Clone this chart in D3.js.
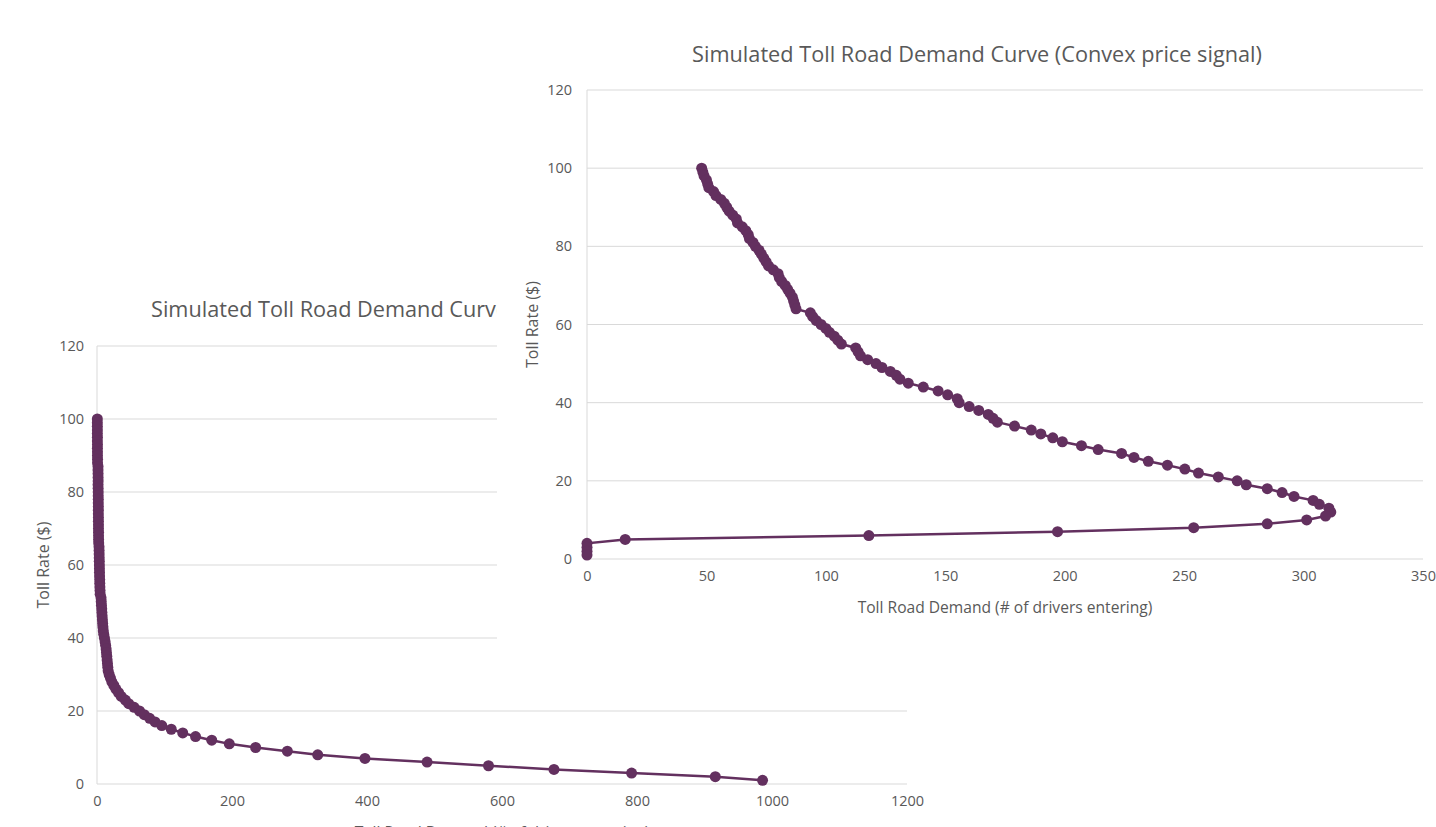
<!DOCTYPE html>
<html>
<head>
<meta charset="utf-8">
<script src="https://cdn.jsdelivr.net/npm/d3@7/dist/d3.min.js"></script>
<style>
  body { margin: 0; background: #fff; overflow: hidden; }
  text { font-family: "Open Sans", "Noto Sans", sans-serif; fill: #595959; }
</style>
</head>
<body>
<svg id="chart" width="1436" height="827"></svg>
<script>
// toll rate steps ($), shared by both simulations
const tollRates = [
  100, 99, 98, 97, 96, 95, 94, 93, 92, 91, 90, 89, 88, 87, 86, 85, 84, 83, 82, 81,
  80, 79, 78, 77, 76, 75, 74, 73, 72, 71, 70, 69, 68, 67, 66, 65, 64, 63, 62, 61,
  60, 59, 58, 57, 56, 55, 54, 53, 52, 51, 50, 49, 48, 47, 46, 45, 44, 43, 42, 41,
  40, 39, 38, 37, 36, 35, 34, 33, 32, 31, 30, 29, 28, 27, 26, 25, 24, 23, 22, 21,
  20, 19, 18, 17, 16, 15, 14, 13, 12, 11, 10, 9, 8, 7, 6, 5, 4, 3, 2, 1
];

// back chart: drivers entering per toll rate
const baseDemand = [
  0.5, 0.5, 0.5, 0.6, 0.5, 0.6, 0.6, 0.7, 0.6, 0.7, 0.7, 0.8, 0.8, 1.5, 1.5, 1.6, 1.6, 1.7, 1.6, 1.7,
  1.8, 1.8, 1.9, 1.9, 2, 2, 2, 2.1, 2.1, 2.2, 2.2, 2.3, 2.3, 2.4, 2.5, 3, 3.1, 3.2, 3.3, 3.4,
  3.5, 3.6, 3.7, 3.8, 4, 4.1, 4.3, 4.5, 4.7, 6, 6.3, 6.6, 7, 7.3, 7.6, 8, 8.4, 8.8, 9.3, 10,
  11, 12, 12.8, 13.5, 14, 14.5, 15, 15.5, 16, 16.5, 18, 20, 22, 25, 28, 32, 36, 42, 47, 55,
  63, 70, 78, 86, 96, 110, 127, 146, 170, 196, 235, 282, 327, 397, 489, 580, 677, 792, 916, 986
];

// front chart: drivers entering per toll rate (convex price signal)
const convexDemand = [
  48, 48.5, 49, 50, 50.5, 51, 53, 54, 56, 57.5, 58.5, 59.5, 61, 62.5, 63, 65, 66.5, 67.5, 68, 69.5,
  70.5, 72, 73, 74, 75, 76, 78, 80, 80.5, 81.5, 83, 84, 85, 86, 86.5, 87, 87.5, 93.5, 94.5, 96,
  98, 100, 101.5, 103.5, 105, 106.5, 112.5, 113.5, 114.5, 117.5, 121, 123.5, 127, 129.5, 131, 134.5, 140.8, 147, 151, 155,
  155.8, 160, 164, 168, 170, 171.8, 179, 186, 190, 195, 199, 207, 214, 223.8, 229, 235, 243, 250.3, 256, 264.3,
  272.2, 276, 284.8, 291, 296, 304, 306.6, 310.6, 311.4, 309.2, 301.3, 284.8, 254, 197, 118, 16, 0, 0, 0, 0
];

const rateTicks = [0, 20, 40, 60, 80, 100, 120];
const baseDemandTicks = [0, 200, 400, 600, 800, 1000, 1200];
const convexDemandTicks = [0, 50, 100, 150, 200, 250, 300, 350];

const baseTitle = 'Simulated Toll Road Demand Curve';
const convexTitle = 'Simulated Toll Road Demand Curve (Convex price signal)';
const demandLabel = 'Toll Road Demand (# of drivers entering)';
const rateLabel = 'Toll Rate ($)';

const lineColor = '#63305f';
const gridColor = '#d9d9d9';

const svg = d3.select('#chart');

const drawChart = (root, opts) => {
  const g = root.append('g');

  if (opts.background) {
    const b = opts.background;
    g.append('rect')
      .attr('x', b[0]).attr('y', b[1])
      .attr('width', b[2]).attr('height', b[3])
      .attr('fill', '#fff');
  }

  const x = d3.scaleLinear()
    .domain([0, opts.xMax])
    .range([opts.left, opts.right]);

  const y = d3.scaleLinear()
    .domain([0, 120])
    .range([opts.bottom, opts.top]);

  // horizontal gridlines
  g.selectAll('.grid')
    .data(rateTicks)
    .enter()
    .append('line')
    .attr('class', 'grid')
    .attr('x1', opts.left)
    .attr('x2', opts.right)
    .attr('y1', d => y(d))
    .attr('y2', d => y(d))
    .attr('stroke', gridColor)
    .attr('stroke-width', 1);

  // vertical axis line
  g.append('line')
    .attr('x1', opts.left).attr('x2', opts.left)
    .attr('y1', opts.top).attr('y2', opts.bottom)
    .attr('stroke', gridColor);

  const yAxis = d3.axisLeft(y)
    .tickValues(rateTicks)
    .tickSize(0)
    .tickPadding(opts.yPad);

  g.append('g')
    .attr('transform', `translate(${opts.left},0)`)
    .call(yAxis)
    .call(a => a.select('.domain').remove())
    .selectAll('text')
    .style('font-size', '14.5px');

  const xAxis = d3.axisBottom(x)
    .tickValues(opts.xTicks)
    .tickSize(0)
    .tickPadding(opts.xPad)
    .tickFormat(d3.format('d'));

  g.append('g')
    .attr('transform', `translate(0,${opts.bottom})`)
    .call(xAxis)
    .call(a => a.select('.domain').remove())
    .selectAll('text')
    .style('font-size', '14.5px');

  const points = tollRates.map((r, i) => ({ rate: r, demand: opts.demand[i] }));

  const line = d3.line()
    .x(d => x(d.demand))
    .y(d => y(d.rate));

  g.append('path')
    .datum(points)
    .attr('d', line)
    .attr('fill', 'none')
    .attr('stroke', lineColor)
    .attr('stroke-width', 2.5);

  g.selectAll('.dot')
    .data(points)
    .enter()
    .append('circle')
    .attr('class', 'dot')
    .attr('cx', d => x(d.demand))
    .attr('cy', d => y(d.rate))
    .attr('r', 5.5)
    .attr('fill', lineColor);

  g.append('text')
    .attr('x', opts.titleX)
    .attr('y', opts.titleY)
    .attr('text-anchor', opts.titleAnchor)
    .style('font-size', '21.7px')
    .text(opts.title);

  g.append('text')
    .attr('transform', `translate(${opts.yLabelX},${(opts.top + opts.bottom) / 2}) rotate(-90)`)
    .attr('text-anchor', 'middle')
    .style('font-size', '16px')
    .text(rateLabel);

  g.append('text')
    .attr('x', (opts.left + opts.right) / 2)
    .attr('y', opts.xLabelY)
    .attr('text-anchor', 'middle')
    .style('font-size', '15.6px')
    .text(demandLabel);
};

drawChart(svg, {
  left: 97, right: 907, top: 346, bottom: 784,
  xMax: 1200, xTicks: baseDemandTicks, demand: baseDemand,
  yPad: 13, xPad: 12,
  title: baseTitle, titleX: 151, titleY: 317, titleAnchor: 'start',
  yLabelX: 49, xLabelY: 838
});

drawChart(svg, {
  background: [497, 0, 939, 650],
  left: 587, right: 1423, top: 90, bottom: 559,
  xMax: 350, xTicks: convexDemandTicks, demand: convexDemand,
  yPad: 15, xPad: 12,
  title: convexTitle, titleX: 977, titleY: 62, titleAnchor: 'middle',
  yLabelX: 538, xLabelY: 613
});
</script>
</body>
</html>
